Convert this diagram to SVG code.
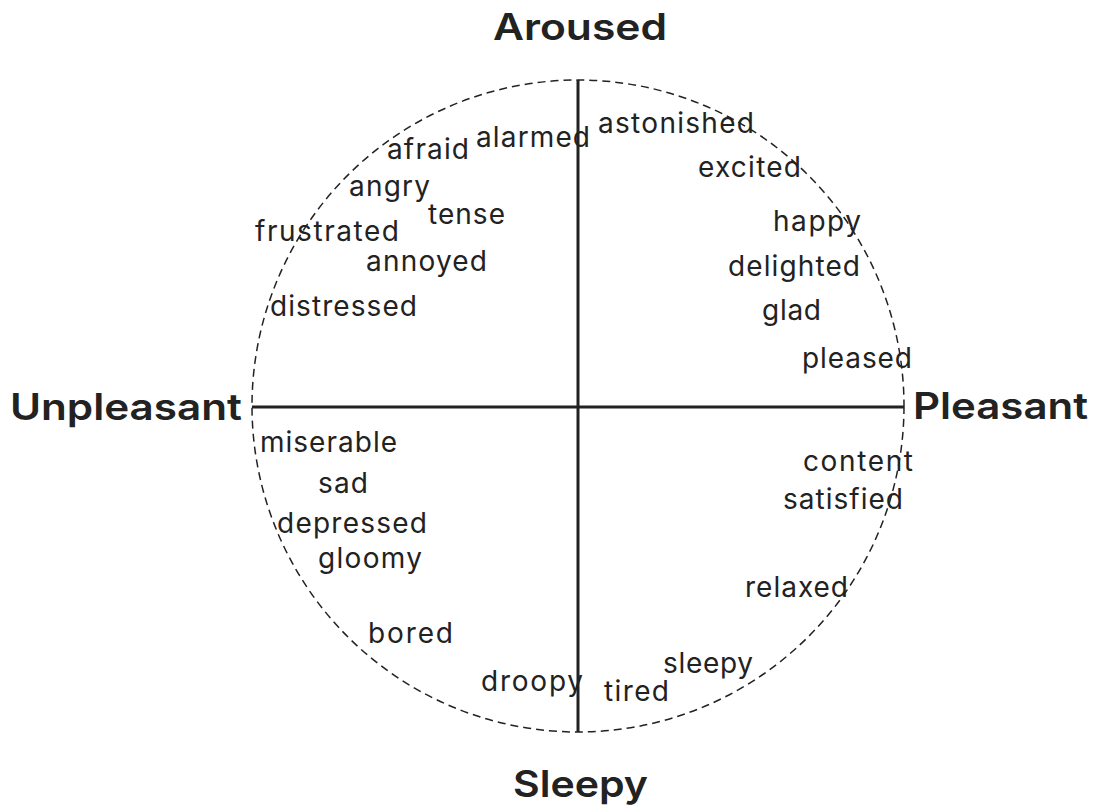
<svg xmlns="http://www.w3.org/2000/svg" width="1097" height="811" viewBox="0 0 1097 811">
  <style>
    .ring { fill: none; stroke: #222; stroke-width: 1.5; stroke-dasharray: 8 5; }
    .axis { stroke: #222; stroke-width: 3; fill: none; }
    .pole { font-family: Inter, "Noto Sans", "Liberation Sans", sans-serif; font-weight: 600; font-size: 37px; fill: #222; }
    .word { font-family: Inter, "Noto Sans", "Liberation Sans", sans-serif; font-size: 28px; fill: #222; }
  </style>
  <rect width="1097" height="811" fill="#fff"/>

  <!-- circumplex ring and axes -->
  <g id="connectors">
    <circle class="ring" cx="578" cy="406" r="326"/>
    <line class="axis" x1="578" y1="80" x2="578" y2="732"/>
    <line class="axis" x1="252" y1="407" x2="904" y2="407"/>
  </g>

  <!-- axis poles -->
  <g id="pole-aroused"><text class="pole" x="493" y="40" textLength="174" lengthAdjust="spacingAndGlyphs">Aroused</text></g>
  <g id="pole-unpleasant"><text class="pole" x="10" y="420" textLength="232" lengthAdjust="spacingAndGlyphs">Unpleasant</text></g>
  <g id="pole-pleasant"><text class="pole" x="913" y="419" textLength="175" lengthAdjust="spacingAndGlyphs">Pleasant</text></g>
  <g id="pole-sleepy"><text class="pole" x="513" y="797" textLength="135" lengthAdjust="spacingAndGlyphs">Sleepy</text></g>

  <!-- upper-left quadrant -->
  <g id="w-alarmed"><text class="word" x="476" y="147" textLength="114">alarmed</text></g>
  <g id="w-afraid"><text class="word" x="387" y="159" textLength="82">afraid</text></g>
  <g id="w-angry"><text class="word" x="349" y="196" textLength="81">angry</text></g>
  <g id="w-tense"><text class="word" x="428" y="224" textLength="77">tense</text></g>
  <g id="w-frustrated"><text class="word" x="255" y="241" textLength="144">frustrated</text></g>
  <g id="w-annoyed"><text class="word" x="366" y="271" textLength="121">annoyed</text></g>
  <g id="w-distressed"><text class="word" x="270" y="316" textLength="147">distressed</text></g>

  <!-- upper-right quadrant -->
  <g id="w-astonished"><text class="word" x="598" y="133" textLength="156">astonished</text></g>
  <g id="w-excited"><text class="word" x="698" y="177" textLength="103">excited</text></g>
  <g id="w-happy"><text class="word" x="773" y="231" textLength="88">happy</text></g>
  <g id="w-delighted"><text class="word" x="728" y="276" textLength="132">delighted</text></g>
  <g id="w-glad"><text class="word" x="762" y="320" textLength="59">glad</text></g>
  <g id="w-pleased"><text class="word" x="802" y="368" textLength="110">pleased</text></g>

  <!-- lower-left quadrant -->
  <g id="w-miserable"><text class="word" x="260" y="452" textLength="137">miserable</text></g>
  <g id="w-sad"><text class="word" x="318" y="493" textLength="50">sad</text></g>
  <g id="w-depressed"><text class="word" x="277" y="533" textLength="150">depressed</text></g>
  <g id="w-gloomy"><text class="word" x="318" y="568" textLength="104">gloomy</text></g>
  <g id="w-bored"><text class="word" x="368" y="643" textLength="85">bored</text></g>
  <g id="w-droopy"><text class="word" x="481" y="691" textLength="102">droopy</text></g>

  <!-- lower-right quadrant -->
  <g id="w-content"><text class="word" x="803" y="471" textLength="110">content</text></g>
  <g id="w-satisfied"><text class="word" x="783" y="509" textLength="120">satisfied</text></g>
  <g id="w-relaxed"><text class="word" x="745" y="597" textLength="103">relaxed</text></g>
  <g id="w-sleepy"><text class="word" x="663" y="673" textLength="90">sleepy</text></g>
  <g id="w-tired"><text class="word" x="604" y="701" textLength="65">tired</text></g>
</svg>
